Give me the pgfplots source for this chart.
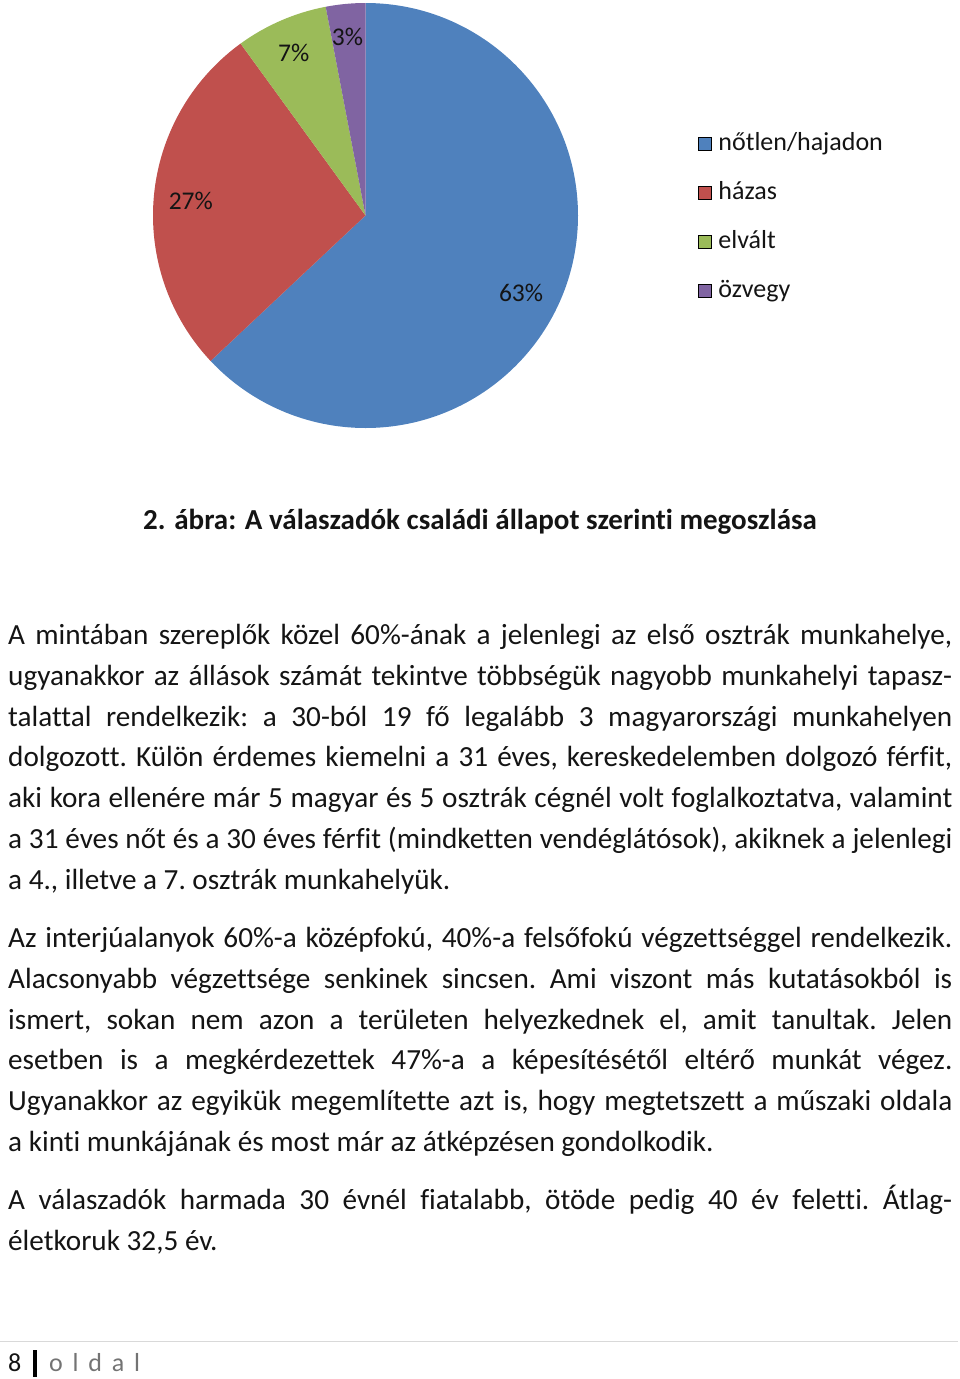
\documentclass[border=0pt]{standalone}
\usepackage{pgfplots}
\usepackage{pgfplotstable}
\pgfplotsset{compat=1.18}
\usepackage{fontspec}
\setmainfont{Carlito}[Ligatures={NoCommon}]
\definecolor{pblue}{HTML}{4F81BD}
\definecolor{pred}{HTML}{C0504D}
\definecolor{pgreen}{HTML}{9BBB59}
\definecolor{ppurple}{HTML}{8064A2}
\definecolor{txt}{HTML}{141414}
\pgfplotstableread{
share
63
27
7
3
}\piedata
\newcommand{\bodyfont}{\fontsize{29.2pt}{34pt}\selectfont\frenchspacing\spaceskip=\fontdimen2\font plus 1fil minus 0.4\fontdimen2\font}
\newcommand{\jl}[1]{\makebox[944pt][s]{#1}}
\begin{document}
\begin{tikzpicture}
\useasboundingbox (0,0) rectangle (960pt,-1379pt);
\pgfplotstablegetelem{0}{share}\of\piedata \let\sA\pgfplotsretval
\pgfplotstablegetelem{1}{share}\of\piedata \let\sB\pgfplotsretval
\pgfplotstablegetelem{2}{share}\of\piedata \let\sC\pgfplotsretval
\pgfplotstablegetelem{3}{share}\of\piedata \let\sD\pgfplotsretval
\pgfmathsetmacro\aO{90}
\pgfmathsetmacro\aA{\aO-3.6*\sA}
\pgfmathsetmacro\aB{\aA-3.6*\sB}
\pgfmathsetmacro\aC{\aB-3.6*\sC}
\pgfmathsetmacro\aD{\aC-3.6*\sD}
\begin{axis}[at={(365.5pt,-215.5pt)}, anchor=center, scale only axis,
  width=425pt, height=425pt, xmin=-1, xmax=1, ymin=-1, ymax=1, hide axis,
  clip=false,
  legend image code/.code={\fill[#1] (0pt,-6.5pt) rectangle (13pt,6.5pt);},
  legend style={at={(axis description cs:1.282,0.4953)}, anchor=west, draw=none, fill=none,
    inner sep=0pt, font=\fontsize{26pt}{30pt}\selectfont, row sep=26pt,
    nodes={inner sep=0pt, text height=18pt, text depth=5pt, text=txt},
    /tikz/every odd column/.append style={column sep=7pt}},
  legend cell align=left]
\addlegendimage{fill=pblue}\addlegendentry{nőtlen/hajadon}
\addlegendimage{fill=pred}\addlegendentry{házas}
\addlegendimage{fill=pgreen}\addlegendentry{elvált}
\addlegendimage{fill=ppurple}\addlegendentry{özvegy}
\fill[pblue] (axis cs:0,0) -- ++(\aO:212.5pt) arc[start angle=\aO, end angle=\aA, radius=212.5pt] -- cycle;
\fill[pred] (axis cs:0,0) -- ++(\aA:212.5pt) arc[start angle=\aA, end angle=\aB, radius=212.5pt] -- cycle;
\fill[pgreen] (axis cs:0,0) -- ++(\aB:212.5pt) arc[start angle=\aB, end angle=\aC, radius=212.5pt] -- cycle;
\fill[ppurple] (axis cs:0,0) -- ++(\aC:212.5pt) arc[start angle=\aC, end angle=\aD, radius=212.5pt] -- cycle;
\node[text=txt, font=\fontsize{25.5pt}{30pt}\selectfont] at (axis cs:0.732,-0.366) {63\%};
\node[text=txt, font=\fontsize{25.5pt}{30pt}\selectfont] at (axis cs:-0.822,0.070) {27\%};
\node[text=txt, font=\fontsize{25.5pt}{30pt}\selectfont] at (axis cs:-0.338,0.765) {7\%};
\node[text=txt, font=\fontsize{25.5pt}{30pt}\selectfont] at (axis cs:-0.085,0.842) {3\%};
\end{axis}
\begin{scope}[x=1pt,y=-1pt, every node/.style={inner sep=0pt, text=txt}]
\node[anchor=base, font=\bfseries\fontsize{29pt}{34pt}\selectfont] at (480,529) {2. ábra: A válaszadók családi állapot szerinti megoszlása};
\begin{scope}[every node/.append style={anchor=base west, font=\bodyfont}]
\node at (8,644.5) {\jl{A mintában szereplők közel 60\%-ának a jelenlegi az első osztrák munkahelye,}};
\node at (8,685.5) {\jl{ugyanakkor az állások számát tekintve többségük nagyobb munkahelyi tapasz-}};
\node at (8,726.5) {\jl{talattal rendelkezik: a 30-ból 19 fő legalább 3 magyarországi munkahelyen}};
\node at (8,766.5) {\jl{dolgozott. Külön érdemes kiemelni a 31 éves, kereskedelemben dolgozó férfit,}};
\node at (8,807.5) {\jl{aki kora ellenére már 5 magyar és 5 osztrák cégnél volt foglalkoztatva, valamint}};
\node at (8,848.5) {\jl{a 31 éves nőt és a 30 éves férfit (mindketten vendéglátósok), akiknek a jelenlegi}};
\node at (8,889.5) {a 4., illetve a 7. osztrák munkahelyük.};
\node at (8,947.5) {\jl{Az interjúalanyok 60\%-a középfokú, 40\%-a felsőfokú végzettséggel rendelkezik.}};
\node at (8,988.5) {\jl{Alacsonyabb végzettsége senkinek sincsen. Ami viszont más kutatásokból is}};
\node at (8,1029.5) {\jl{ismert, sokan nem azon a területen helyezkednek el, amit tanultak. Jelen}};
\node at (8,1069.5) {\jl{esetben is a megkérdezettek 47\%-a a képesítésétől eltérő munkát végez.}};
\node at (8,1110.5) {\jl{Ugyanakkor az egyikük megemlítette azt is, hogy megtetszett a műszaki oldala}};
\node at (8,1151.5) {a kinti munkájának és most már az átképzésen gondolkodik.};
\node at (8,1209.5) {\jl{A válaszadók harmada 30 évnél fiatalabb, ötöde pedig 40 év feletti. Átlag-}};
\node at (8,1250.5) {életkoruk 32,5 év.};
\end{scope}
\begin{scope}[every node/.append style={anchor=base west, font=\fontsize{26pt}{30pt}\selectfont}]
\node at (8,1371) {8};
\node[text=black!55] at (49,1371) {o\kern9.8pt l\kern9.8pt d\kern9.8pt a\kern9.8pt l};
\end{scope}
\fill[black] (33,1350) rectangle (37,1377);
\draw[black!15, line width=1pt] (0,1341) -- (958,1341);
\end{scope}
\end{tikzpicture}
\end{document}
